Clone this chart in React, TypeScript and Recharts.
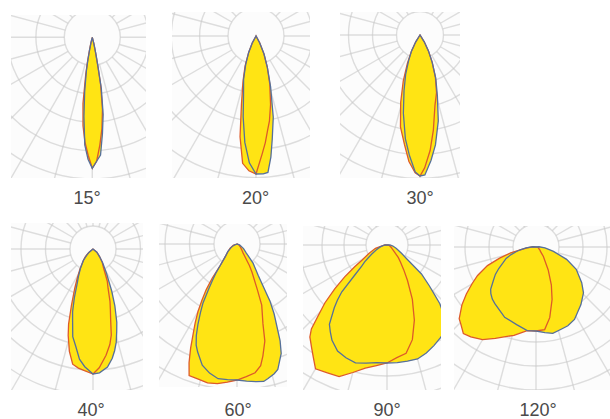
import React from "react";
import { RadarChart, Radar, PolarGrid, PolarAngleAxis, PolarRadiusAxis } from "recharts";

const angles15 = [-18, -14, -12, -11, -10, -8, -6, -4, -2, 0, 2, 4, 6, 8, 10, 11, 12, 14, 18];
const red15 = [0, 6, 15, 26, 38, 67, 89, 105, 118, 131, 124, 108, 92, 73, 48, 28, 16, 6, 0];
const blue15 = [0, 5, 14, 24, 34, 55, 80, 108, 122, 131, 124, 118, 97, 78, 52, 30, 18, 7, 0];

const angles20 = [-32, -28, -24, -20, -16, -12, -9, -6, -3, 0, 3, 5, 7, 9, 12, 16, 20, 24, 28, 32];
const red20 = [0, 8, 18, 32, 47, 70, 102, 128, 135, 138, 118, 107, 95, 86, 70, 50, 33, 19, 8, 0];
const blue20 = [0, 8, 18, 30, 45, 60, 82, 107, 127, 138, 138, 137, 122, 104, 83, 53, 33, 20, 8, 0];

const angles30 = [-36, -32, -28, -24, -20, -16, -12, -8, -5, -2, 0, 2, 5, 8, 12, 16, 20, 24, 28, 32, 36];
const red30 = [0, 8, 18, 31, 49, 70, 94, 111, 127, 138, 141, 133, 116, 96, 72, 60, 45, 30, 18, 8, 0];
const blue30 = [0, 8, 18, 28, 42, 58, 80, 105, 121, 137, 141, 140, 126, 111, 88, 63, 46, 30, 18, 8, 0];

const angles40 = [-60, -50, -45, -40, -33, -28, -25, -21, -18, -16, -13, -10, -7, -4, 0, 3, 7, 10, 12, 14, 16, 18, 21, 24, 29, 35, 41, 50, 60];
const red40 = [0, 6, 11, 15, 24, 34, 43, 60, 79, 90, 105, 117, 120, 122, 125, 119, 107, 97, 88, 73, 63, 55, 42, 35, 22, 16, 10, 5, 0];
const blue40 = [0, 5, 9, 15, 23, 31, 37, 52, 66, 74, 90, 99, 111, 118, 125, 124, 119, 111, 104, 96, 86, 77, 61, 46, 28, 17, 10, 5, 0];

const angles60 = [-80, -70, -59, -50, -43, -38, -36, -34, -32, -30, -28, -26, -24, -22, -20, -16, -12, -8, -4, 0, 4, 8, 11, 13, 16, 18, 22, 24, 28, 30, 34, 40, 46, 55, 70, 80];
const red60 = [0, 4, 8, 12, 17, 27, 42, 55, 66, 78, 89, 100, 114, 128, 140, 140.5, 142, 141, 138.5, 136, 133, 130, 124, 115, 101, 84, 66, 50, 32, 25, 11, 7, 5, 3, 2, 0];
const blue60 = [0, 3, 7, 12, 17, 27, 36, 44, 54, 68, 78, 89, 100, 109, 115, 126, 132, 136, 136, 136, 137.5, 139, 140, 138, 135, 132, 118, 106, 79, 66, 38, 25, 13, 8, 3, 0];

const angles90 = [-100, -90, -80, -74, -65, -59, -56, -53, -50, -47, -44, -42, -40, -36, -33, -30, -25, -20, -15, -10, -5, 0, 5, 10, 15, 20, 25, 30, 34, 38, 42, 46, 50, 55, 60, 70, 80, 90, 100];
const red90 = [0, 2, 5, 12, 20, 29, 39, 53, 68, 85, 100, 113, 120, 128, 135, 143, 141, 140, 132, 125, 121, 118, 113, 110, 98, 80, 60, 41, 30, 22, 17, 11, 8, 6, 5, 3, 2, 1, 0];
const blue90 = [0, 2, 4, 7, 12, 18, 22, 28, 33, 44, 65, 74, 82, 98, 104, 110, 117, 120, 122, 120, 118, 118, 118, 118, 118, 115, 111, 107, 104, 95, 79, 59, 45, 24, 17, 10, 6, 3, 0];

const angles120 = [-105, -95, -85, -80, -77, -73, -69, -64, -60, -56, -52, -47, -44, -40, -36, -30, -24, -14, -6, 0, 6, 11, 17, 22, 28, 38, 46, 52, 61, 68, 76, 85, 95, 105];
const red120 = [0, 3, 9, 16, 26, 38, 52, 65, 74, 84, 94, 105, 108, 113, 111, 107, 100, 91, 84, 84, 83, 72, 55, 41, 26, 12, 6, 5, 3, 3, 2, 1, 0, 0];
const blue120 = [0, 3, 10, 16, 20, 26, 32, 37, 43, 49, 54, 62, 65, 68, 70, 73, 77, 80, 84, 84, 86, 88, 86, 85, 82, 73, 66, 58, 46, 33, 18, 9, 3, 0];

const gridAngles = Array.from({ length: 24 }, (_, i) => i * 15);
const MAX = 200;

const panels = [
  { label: "15°", angles: angles15, red: red15, blue: blue15, left: 11, top: 15, w: 135, h: 163, cx: 81.3, cy: 22.3, hub: 28, step: 28.4, labelX: 87, labelY: 204 },
  { label: "20°", angles: angles20, red: red20, blue: blue20, left: 172, top: 12, w: 138, h: 166, cx: 84, cy: 24, hub: 28, step: 28.4, labelX: 255.5, labelY: 204 },
  { label: "30°", angles: angles30, red: red30, blue: blue30, left: 340, top: 12, w: 120, h: 166, cx: 80, cy: 23, hub: 23.5, step: 24, labelX: 420, labelY: 204 },
  { label: "40°", angles: angles40, red: red40, blue: blue40, left: 11, top: 223, w: 132, h: 167, cx: 82, cy: 26, hub: 23, step: 24.5, labelX: 91, labelY: 416 },
  { label: "60°", angles: angles60, red: red60, blue: blue60, left: 159, top: 224, w: 128, h: 163, cx: 78, cy: 20, hub: 23, step: 24.5, labelX: 238, labelY: 416 },
  { label: "90°", angles: angles90, red: red90, blue: blue90, left: 303, top: 226, w: 138, h: 164, cx: 84, cy: 19, hub: 21, step: 22, labelX: 387, labelY: 416 },
  { label: "120°", angles: angles120, red: red120, blue: blue120, left: 454, top: 226, w: 156, h: 164, cx: 82, cy: 21, hub: 23, step: 24, labelX: 538, labelY: 416 },
];

function Panel({ p }: { p: (typeof panels)[number] }) {
  const rows = p.angles.map((a, i) => ({ a, red: p.red[i], blue: p.blue[i] }));
  const rings = Array.from({ length: 7 }, (_, i) => p.hub + i * p.step);
  return (
    <div style={{ position: "absolute", left: p.left, top: p.top, width: p.w, height: p.h, overflow: "hidden", background: "#fcfcfc" }}>
      <RadarChart
        width={p.w}
        height={p.h}
        data={rows}
        cx={p.cx}
        cy={p.cy}
        innerRadius={p.hub}
        outerRadius={MAX}
        startAngle={-270}
        endAngle={90}
        margin={{ top: 0, right: 0, bottom: 0, left: 0 }}
      >
        <PolarAngleAxis dataKey="a" type="number" domain={[-180, 180]} tick={false} axisLine={false} />
        <PolarRadiusAxis type="number" domain={[p.hub, MAX]} allowDataOverflow tick={false} axisLine={false} />
        <Radar dataKey="red" fill="#FFE414" fillOpacity={1} stroke="none" dot={false} isAnimationActive={false} />
        <Radar dataKey="blue" fill="#FFE414" fillOpacity={1} stroke="none" dot={false} isAnimationActive={false} />
        <PolarGrid
          gridType="circle"
          polarAngles={gridAngles}
          polarRadius={rings}
          stroke="#c8c8c8"
          strokeOpacity={0.6}
          strokeWidth={1.4}
        />
        <Radar dataKey="red" fill="none" stroke="#dd5a2a" strokeWidth={1.3} dot={false} isAnimationActive={false} />
        <Radar dataKey="blue" fill="none" stroke="#56709a" strokeWidth={1.3} dot={false} isAnimationActive={false} />
      </RadarChart>
    </div>
  );
}

export default function App() {
  return (
    <div style={{ position: "absolute", left: 0, top: 0, width: 610, height: 419, background: "#fff", overflow: "hidden" }}>
      {panels.map((p) => (
        <React.Fragment key={p.label}>
          <Panel p={p} />
          <div
            style={{
              position: "absolute",
              left: p.labelX - 40,
              width: 80,
              top: p.labelY - 16,
              lineHeight: "20px",
              textAlign: "center",
              fontFamily: "'Liberation Sans', Arial, sans-serif",
              fontSize: 18,
              color: "#4a4a4a",
            }}
          >
            {p.label}
          </div>
        </React.Fragment>
      ))}
    </div>
  );
}
